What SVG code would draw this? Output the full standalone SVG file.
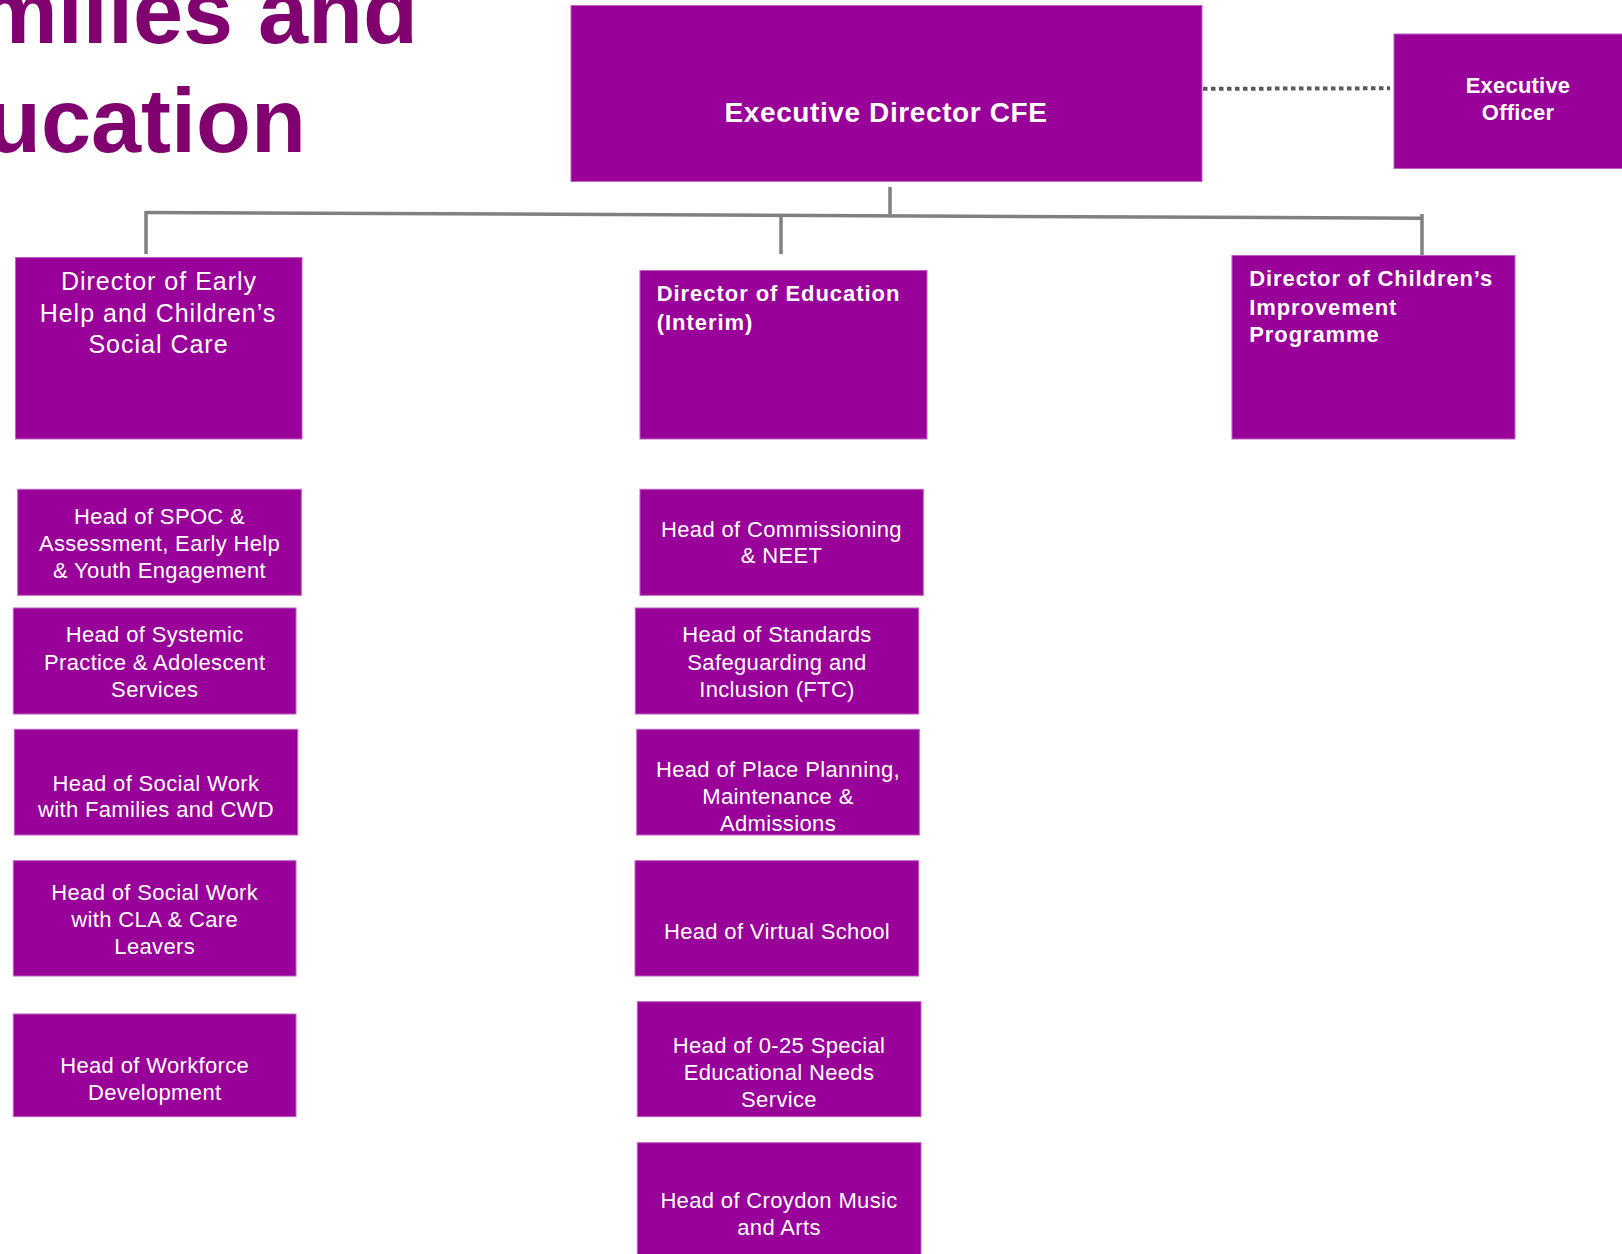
<svg xmlns="http://www.w3.org/2000/svg" width="1622" height="1254" viewBox="0 0 1622 1254">
<style>
.box{fill:#990099;stroke:#c05ec0;stroke-width:1}
.t{fill:#ffffff;font-family:"Liberation Sans",Arial,sans-serif}
.h{font-size:22px;letter-spacing:0.35px;text-anchor:middle}
.b{font-weight:bold}
.title{fill:#800070;font-family:"Liberation Sans",Arial,sans-serif;font-weight:bold;font-size:90px;text-anchor:end}
.con{stroke:#808080;stroke-width:3.5;fill:none}
.dot{stroke:#595959;stroke-width:4;stroke-dasharray:4.5 3.5;fill:none}
</style>
<rect width="1622" height="1254" fill="#ffffff"/>
<g id="title">
<text class="title" x="418" y="43">Families and</text>
<text class="title" x="306" y="152">Education</text>
</g>
<g id="connectors">
<line class="con" x1="890" y1="187" x2="890" y2="214"/>
<line class="con" x1="146" y1="212.4" x2="1422" y2="218.3"/>
<line class="con" x1="146" y1="211" x2="146" y2="254"/>
<line class="con" x1="781" y1="216" x2="781" y2="254"/>
<line class="con" x1="1422" y1="214" x2="1422" y2="255"/>
<line class="dot" x1="1203" y1="88.8" x2="1390" y2="88.3"/>
</g>
<g id="exec-director">
<rect class="box" x="571" y="5.5" width="631" height="176"/>
<text class="t b" x="886" y="121.7" font-size="28" letter-spacing="0.6" text-anchor="middle">Executive Director CFE</text>
</g>
<g id="exec-officer">
<rect class="box" x="1394" y="34" width="240" height="134.5"/>
<text class="t b" x="1518" y="93.3" font-size="22" letter-spacing="0.2" text-anchor="middle">Executive</text>
<text class="t b" x="1518" y="120" font-size="22" letter-spacing="0.2" text-anchor="middle">Officer</text>
</g>
<g id="dir-early-help">
<rect class="box" x="15.5" y="257.5" width="286.5" height="181.5"/>
<text class="t" font-size="25" letter-spacing="1" text-anchor="middle"><tspan x="159" y="289.7">Director of Early</tspan><tspan x="158" y="321.5">Help and Children’s</tspan><tspan x="158.5" y="353.3">Social Care</tspan></text>
</g>
<g id="dir-education">
<rect class="box" x="640" y="270.5" width="287" height="168.5"/>
<text class="t b" font-size="22" letter-spacing="0.95"><tspan x="656.7" y="301">Director of Education</tspan><tspan x="656.7" y="330">(Interim)</tspan></text>
</g>
<g id="dir-improvement">
<rect class="box" x="1232" y="255.5" width="283" height="183.5"/>
<text class="t b" font-size="22" letter-spacing="0.9"><tspan x="1249.3" y="285.7">Director of Children’s</tspan><tspan x="1249.3" y="314.5">Improvement</tspan><tspan x="1249.3" y="342">Programme</tspan></text>
</g>
<g id="head-spoc">
<rect class="box" x="17.7" y="489.3" width="283.6" height="106"/>
<text class="t h"><tspan x="159.5" y="523.7">Head of SPOC &amp;</tspan><tspan x="159.5" y="551.3">Assessment, Early Help</tspan><tspan x="159.5" y="578.3">&amp; Youth Engagement</tspan></text>
</g>
<g id="head-systemic">
<rect class="box" x="13.3" y="608" width="282.7" height="106"/>
<text class="t h"><tspan x="154.7" y="642.3">Head of Systemic</tspan><tspan x="154.7" y="670">Practice &amp; Adolescent</tspan><tspan x="154.7" y="696.7">Services</tspan></text>
</g>
<g id="head-sw-families">
<rect class="box" x="14.3" y="729.3" width="283.4" height="105.7"/>
<text class="t h"><tspan x="156" y="791">Head of Social Work</tspan><tspan x="156" y="817.3">with Families and CWD</tspan></text>
</g>
<g id="head-sw-cla">
<rect class="box" x="13.3" y="860.7" width="282.7" height="115.3"/>
<text class="t h"><tspan x="154.7" y="900">Head of Social Work</tspan><tspan x="154.7" y="927.3">with CLA &amp; Care</tspan><tspan x="154.7" y="954">Leavers</tspan></text>
</g>
<g id="head-workforce">
<rect class="box" x="13.3" y="1014" width="282.7" height="102.7"/>
<text class="t h"><tspan x="154.7" y="1073.3">Head of Workforce</tspan><tspan x="154.7" y="1100">Development</tspan></text>
</g>
<g id="head-commissioning">
<rect class="box" x="640" y="489.3" width="283.3" height="106"/>
<text class="t h"><tspan x="781.5" y="537.3">Head of Commissioning</tspan><tspan x="781.5" y="563.3">&amp; NEET</tspan></text>
</g>
<g id="head-standards">
<rect class="box" x="635.3" y="608" width="283.4" height="106"/>
<text class="t h"><tspan x="777" y="642.3">Head of Standards</tspan><tspan x="777" y="670">Safeguarding and</tspan><tspan x="777" y="697.3">Inclusion (FTC)</tspan></text>
</g>
<g id="head-place-planning">
<rect class="box" x="636.7" y="729.3" width="282.6" height="105.7"/>
<text class="t h"><tspan x="778" y="776.7">Head of Place Planning,</tspan><tspan x="778" y="804">Maintenance &amp;</tspan><tspan x="778" y="830.7">Admissions</tspan></text>
</g>
<g id="head-virtual-school">
<rect class="box" x="635" y="860.7" width="283.7" height="115.3"/>
<text class="t h" x="777" y="939.3">Head of Virtual School</text>
</g>
<g id="head-send">
<rect class="box" x="637.3" y="1001.7" width="283.7" height="115"/>
<text class="t h"><tspan x="779" y="1053.3">Head of 0-25 Special</tspan><tspan x="779" y="1080">Educational Needs</tspan><tspan x="779" y="1106.7">Service</tspan></text>
</g>
<g id="head-music">
<rect class="box" x="637.3" y="1142.7" width="283.7" height="125"/>
<text class="t h"><tspan x="779" y="1208.3">Head of Croydon Music</tspan><tspan x="779" y="1235">and Arts</tspan></text>
</g>
</svg>
